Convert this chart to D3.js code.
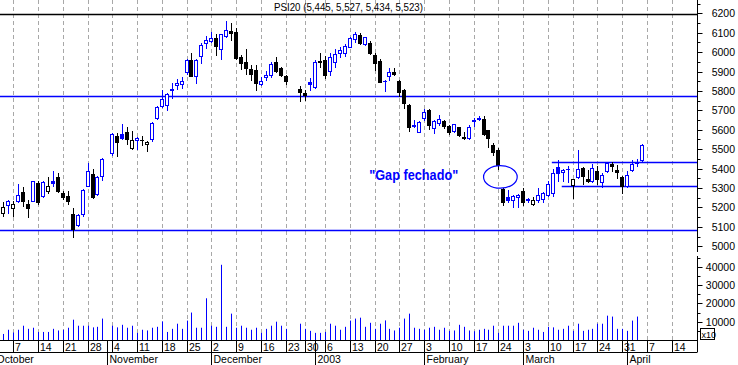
<!DOCTYPE html>
<html><head><meta charset="utf-8">
<script src="https://cdn.jsdelivr.net/npm/d3@7"></script>
<style>html,body{margin:0;padding:0;background:#fff;}svg{display:block;font-family:"Liberation Sans",Arial,sans-serif;}</style>
</head><body><svg id="c" width="738" height="365"></svg>
<script>
// ---- trading-day calendar (categories) ----
const monthDays = [
 ["2002-10",[1,2,3,4,7,8,9,10,11,14,15,16,17,18,21,22,23,24,25,28,29,30,31]],
 ["2002-11",[1,4,5,6,7,8,11,12,13,14,15,18,19,20,21,22,25,26,27,28,29]],
 ["2002-12",[2,3,4,5,6,9,10,11,12,13,16,17,18,19,20,23,24,26,27,30,31]],
 ["2003-01",[2,3,6,7,8,9,10,13,14,15,16,17,20,21,22,23,24,27,28,29,30,31]],
 ["2003-02",[3,4,5,6,7,10,11,12,13,14,17,18,19,20,21,24,25,26,27,28]],
 ["2003-03",[3,4,5,6,7,10,11,12,13,14,17,18,19,20,21,24,25,26,27,28,31]],
 ["2003-04",[1,2,3,4,7,8,9,10,11,14]]
];
// ---- series (PSI20 daily) ----
const priorClose = 5230;
const open = [null,null,
5169,5214,5196,5234,5277,5220,5234,5327,5258,5284,
5334,5358,5276,5258,5165,5108,5165,5310,5372,5269,
5363,null,5479,5569,5579,5591,5505,5548,5547,5527,
5553,5660,5722,5730,5805,5829,5838,5895,5958,5877,
5981,6045,6058,6071,6015,6083,6108,6105,5975,5950,
5915,5907,5835,5872,5881,5950,5920,5876,null,null,
5812,5790,5846,5821,5955,5958,5905,5950,5993,5996,
6027,6067,6088,6040,6048,5984,5953,5849,5879,5898,
5851,5803,5729,5618,5589,5660,5700,5610,5633,5643,
5617,5592,5612,5564,5555,5645,5657,5657,5597,5524,
5495,5297,5255,5236,5255,5286,5236,5217,5236,5245,
5264,5274,5410,5381,5397,5313,5355,5403,5346,5338,
5388,5329,5386,5421,5395,5358,5308,5393,5428,5445];
const high = [null,null,
5226,5237,5234,5320,5307,5239,5338,5334,5335,5358,
5389,5377,5283,5286,5196,5165,5294,5427,5398,5363,
5453,null,5582,5582,5631,5614,5596,5565,5570,5544,
5639,5722,5803,5790,5843,5864,5872,5962,5996,5962,
6045,6083,6105,6091,6093,6162,6150,6125,5985,6015,
5932,5932,5872,5902,5950,5975,5925,5882,null,null,
5824,5803,5865,5957,5998,5979,5993,6014,6027,6040,
6079,6105,6098,6080,6055,5993,5962,5855,5920,5920,
5855,5812,5735,5652,5643,5708,5709,5652,5678,5650,
5622,5632,5616,5588,5627,5660,5669,5670,5600,5532,
5505,5302,5290,5262,5270,5300,5250,5252,5300,5278,
5334,5398,5445,5400,5415,5348,5498,5407,5393,5424,
5414,5376,5434,5432,5420,5360,5390,5445,5450,5527];
const low = [null,null,
5157,5169,5157,5226,5208,5148,5231,5218,5255,5272,
5312,5277,5243,5217,5045,5105,5157,5308,5248,5265,
5341,null,5472,5467,5553,5527,5503,5501,5519,5493,
5544,5657,5715,5703,5765,5812,5817,5889,5877,5841,
5945,6019,6050,5984,5967,6080,6060,5965,5915,5889,
5855,5807,5829,5855,5872,5895,5876,5838,null,null,
5748,5752,5803,5815,5925,5869,5881,5924,5976,5979,
6024,6050,6040,6036,5990,5907,5846,5800,5858,5880,
5772,5712,5596,5613,5587,5652,5605,5583,5622,5608,
5578,5588,5570,5550,5552,5617,5648,5572,5512,5472,
5400,5214,5226,5202,5203,5214,5230,5210,5230,5228,
5258,5258,5338,5338,5330,5250,5352,5321,5329,5330,
5321,5303,5380,5386,5353,5272,5303,5390,5412,5434];
const close = [null,null,
5203,5234,5217,5265,5234,5197,5336,5228,5332,5310,
5327,5286,5256,5235,5088,5162,5289,5386,5255,5355,
5450,null,5579,5536,5557,5550,5547,5558,5545,5539,
5634,5717,5758,5786,5808,5841,5852,5958,5877,5958,
6039,6065,6071,6032,6091,6114,6100,5972,5945,5917,
5886,5841,5853,5884,5941,5905,5881,5852,null,null,
5792,5778,5835,5950,5948,5880,5976,5989,6010,6031,
6074,6091,6045,6076,5993,5945,5846,5852,5898,5885,
5797,5738,5613,5622,5641,5691,5622,5644,5657,5617,
5588,5628,5573,5560,5614,5648,5660,5578,5558,5485,
5416,5226,5240,5259,5265,5226,5245,5240,5265,5274,
5321,5376,5376,5395,5400,5346,5398,5364,5334,5402,
5346,5369,5429,5415,5381,5312,5369,5424,5433,5523];
const volume = [null,null,
3300,5600,4100,5600,7800,6100,6700,4400,4400,4400,
6100,5200,5600,6700,11100,7800,7800,7800,6900,7200,
11700,null,7800,6900,8300,6700,7800,3900,5600,5200,
6700,7200,10200,4400,6100,8900,6100,10600,15000,6700,
6700,22800,7800,7200,41100,7200,14400,6700,7800,6700,
5600,6700,3900,6100,7800,10000,7800,6100,null,null,
8900,6100,5000,3900,3900,4400,8900,7800,5600,7200,
10600,11700,12200,7200,9400,6100,8900,10700,6100,5200,
6700,11700,14400,6700,6100,5600,6700,7200,5600,6700,
5000,5200,8300,7200,5200,4800,5600,6100,5600,7800,
3900,7800,7800,7800,9400,5600,5000,6700,5600,4400,
7200,6900,5600,6100,7800,5000,8900,5000,5600,6100,
8900,8900,13300,12800,6100,6100,5000,10600,12800,null];
// ---- axis labels ----
const weekTicks = ["2002-10-07","2002-10-14","2002-10-21","2002-10-28","2002-11-04","2002-11-11","2002-11-18","2002-11-25",
 "2002-12-02","2002-12-09","2002-12-16","2002-12-23","2002-12-30","2003-01-06","2003-01-13","2003-01-20","2003-01-27",
 "2003-02-03","2003-02-10","2003-02-17","2003-02-24","2003-03-03","2003-03-10","2003-03-17","2003-03-24","2003-03-31",
 "2003-04-07","2003-04-14"];
const monthStarts = ["2002-10-01","2002-11-01","2002-12-02","2003-01-02","2003-02-03","2003-03-03","2003-04-01"];
const monthLabels = ["October","November","December","2003","February","March","April"];
const priceTicks = [5000,5100,5200,5300,5400,5500,5600,5700,5800,5900,6000,6100,6200];
const volumeTicks = [10000,20000,30000,40000];
const titleText = "PSI20 (5,445, 5,527, 5,434, 5,523)";
// ---- annotations (price levels) ----
const longLevels = [6195, 5776, 5086];
const shortLevels = [[5434,"2003-03-11"],[5310,"2003-03-13"]];
const gapEllipse = {day:"2003-02-24", dayOffset:0.4, price:5357, halfDays:3.4, halfPts:58};
const gapText = {text:"\"Gap fechado\"", day:"2003-01-17", dayOffset:-0.1, price:5340};

const dates = [];
monthDays.forEach(([m,ds]) => ds.forEach(d => dates.push(m + "-" + String(d).padStart(2,"0"))));
const idx = s => dates.indexOf(s);

const BLUE = "#0000ff", BLACK = "#000000", GRID = "#a8a8a8";
const svg = d3.select("#c");
svg.append("rect").attr("width",738).attr("height",365).attr("fill","#fff");

const x = d3.scaleLinear().domain([4, 137]).range([13.3, 671.65]);
const y = d3.scaleLinear().domain([5100, 6200]).range([226.8, 13.3]);
const yv = d3.scaleLinear().domain([0, 10000]).range([340, 321.7]);
const AX = 697.5;
const px = v => Math.round(v) + 0.5;

// dashed weekly gridlines
svg.append("g").selectAll("line").data(weekTicks).join("line")
  .attr("x1", d => px(x(idx(d)))).attr("x2", d => px(x(idx(d))))
  .attr("y1", 0).attr("y2", 340)
  .attr("stroke", GRID).attr("stroke-dasharray", "4,3");

// long horizontal levels
svg.append("g").selectAll("line").data(longLevels).join("line")
  .attr("x1", 0).attr("x2", AX).attr("y1", d => px(y(d))).attr("y2", d => px(y(d)))
  .attr("stroke", (d,i) => i === 0 ? BLACK : BLUE).attr("stroke-width", 1.3);
svg.append("g").selectAll("line").data(shortLevels).join("line")
  .attr("x1", d => x(idx(d[1])) - 1).attr("x2", AX).attr("y1", d => px(y(d[0]))).attr("y2", d => px(y(d[0])))
  .attr("stroke", BLUE).attr("stroke-width", 1.3);

// volume bars
const vIdx = d3.range(dates.length).filter(i => volume[i] != null);
svg.append("g").selectAll("line").data(vIdx).join("line")
  .attr("x1", i => px(x(i))).attr("x2", i => px(x(i)))
  .attr("y1", 340).attr("y2", i => yv(volume[i]))
  .attr("stroke", BLUE).attr("stroke-width", 1);

// candlesticks
const cIdx = d3.range(dates.length).filter(i => open[i] != null);
const prevClose = i => { for (let k = i - 1; k >= 0; k--) if (close[k] != null) return close[k]; return priorClose; };
const cg = svg.append("g");
cIdx.forEach(i => {
  const r = Math.round(x(i));
  const col = close[i] >= prevClose(i) ? BLUE : BLACK;
  const hollow = close[i] >= open[i];
  cg.append("line").attr("x1", r + 0.5).attr("x2", r + 0.5)
    .attr("y1", Math.round(y(high[i]))).attr("y2", Math.round(y(low[i])) + 1)
    .attr("stroke", col);
  const top = Math.round(y(Math.max(open[i], close[i]))) + 0.5;
  const bot = Math.round(y(Math.min(open[i], close[i]))) + 0.5;
  cg.append("rect").attr("x", r - 1.5).attr("width", 3)
    .attr("y", top).attr("height", Math.max(bot - top, 0.01))
    .attr("fill", hollow ? "#fff" : col).attr("stroke", col);
});

// gap annotation
const ex = x(idx(gapEllipse.day) + gapEllipse.dayOffset);
svg.append("ellipse").attr("cx", ex).attr("cy", y(gapEllipse.price))
  .attr("rx", x(gapEllipse.halfDays) - x(0)).attr("ry", y(5100) - y(5100 + gapEllipse.halfPts))
  .attr("fill", "none").attr("stroke", BLUE).attr("stroke-width", 1.2);
svg.append("text").attr("x", x(idx(gapText.day) + gapText.dayOffset)).attr("y", y(gapText.price))
  .attr("fill", BLUE).attr("font-weight", "bold").attr("font-size", 15)
  .attr("textLength", 89).attr("lengthAdjust", "spacingAndGlyphs").text(gapText.text);

// title
svg.append("text").attr("x", 274).attr("y", 11).attr("font-size", 10.5).attr("fill", BLACK)
  .attr("textLength", 149).attr("lengthAdjust", "spacingAndGlyphs").text(titleText);

// right price axis
const ag = svg.append("g");
ag.append("line").attr("x1", AX).attr("x2", AX).attr("y1", 0).attr("y2", 252).attr("stroke", BLACK);
ag.append("line").attr("x1", AX).attr("x2", AX).attr("y1", 256).attr("y2", 352).attr("stroke", BLACK);
const minorP = d3.range(4950, 6300, 50).filter(v => y(v) >= 0 && y(v) <= 251);
ag.selectAll(".pt").data(minorP).join("line")
  .attr("x1", AX).attr("x2", v => AX + (v % 100 === 0 ? 5 : 3))
  .attr("y1", v => px(y(v))).attr("y2", v => px(y(v))).attr("stroke", BLACK);
ag.selectAll(".pl").data(priceTicks).join("text")
  .attr("x", 735).attr("y", v => y(v) + 4).attr("text-anchor", "end")
  .attr("font-size", 10.5).text(v => v);
// volume axis
const minorV = d3.range(5000, 50000, 5000).filter(v => yv(v) >= 257);
ag.selectAll(".vt").data(minorV).join("line")
  .attr("x1", AX).attr("x2", v => AX + (v % 10000 === 0 ? 5 : 3))
  .attr("y1", v => px(yv(v))).attr("y2", v => px(yv(v))).attr("stroke", BLACK);
ag.selectAll(".vl").data(volumeTicks).join("text")
  .attr("x", 735).attr("y", v => yv(v) + 4).attr("text-anchor", "end")
  .attr("font-size", 10.5).text(v => v);
ag.append("rect").attr("x", 700.5).attr("y", 328.5).attr("width", 14).attr("height", 11)
  .attr("fill", "#fff").attr("stroke", BLACK);
ag.append("text").attr("x", 701.5).attr("y", 337.5).attr("font-size", 9).text("x10");

// bottom date axis
const bg = svg.append("g");
bg.append("line").attr("x1", 0).attr("x2", AX).attr("y1", 340.5).attr("y2", 340.5).attr("stroke", BLACK);
bg.append("line").attr("x1", 0).attr("x2", AX).attr("y1", 352.5).attr("y2", 352.5).attr("stroke", BLACK);
bg.selectAll(".wt").data(weekTicks).join("line")
  .attr("x1", d => px(x(idx(d)))).attr("x2", d => px(x(idx(d))))
  .attr("y1", 340).attr("y2", 352).attr("stroke", BLACK);
bg.selectAll(".wl").data(weekTicks).join("text")
  .attr("x", d => px(x(idx(d))) + 1.5).attr("y", 350.5).attr("font-size", 10.5)
  .text(d => String(+d.slice(8)));
bg.selectAll(".mt").data(monthStarts).join("line")
  .attr("x1", d => px(x(idx(d)))).attr("x2", d => px(x(idx(d))))
  .attr("y1", 340).attr("y2", 365).attr("stroke", BLACK);
bg.selectAll(".ml").data(monthStarts).join("text")
  .attr("x", d => px(x(idx(d))) + 2).attr("y", 363).attr("font-size", 10.5)
  .text((d,i) => monthLabels[i]);
</script></body></html>
